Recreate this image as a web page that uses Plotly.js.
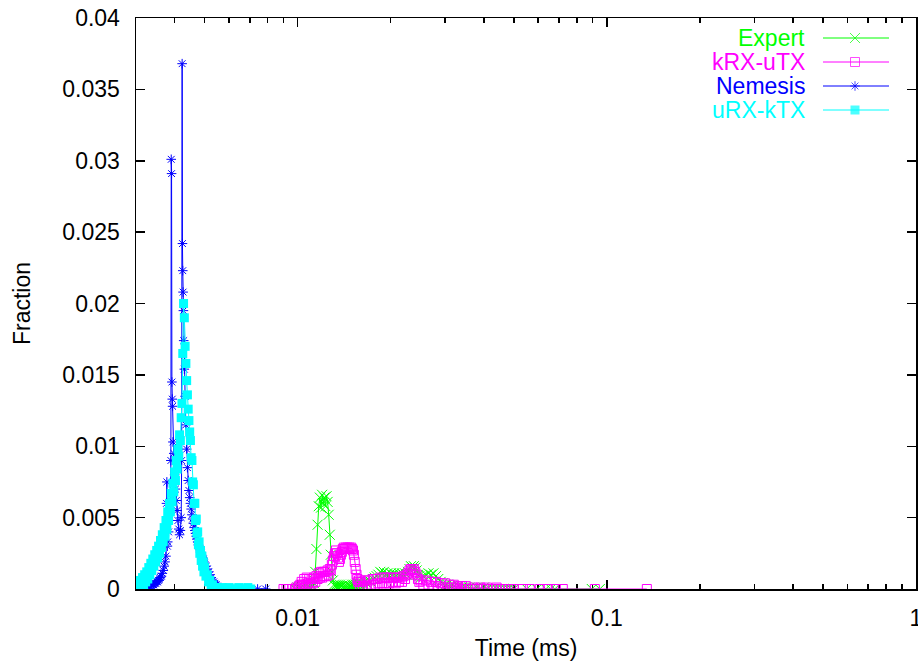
<!DOCTYPE html>
<html>
<head>
<meta charset="utf-8">
<script src="https://cdn.plot.ly/plotly-3.0.1.min.js"></script>
<style>
  html, body { margin: 0; padding: 0; background: #fff; }
  #chart { width: 918px; height: 664px; }
</style>
</head>
<body>
<div id="chart"></div>
<script>
// Latency histograms: fraction of samples per time bin (ms, log scale)

const seriesNames = ['Expert', 'kRX-uTX', 'Nemesis', 'uRX-kTX'];

const expertTime = [
  0.0098, 0.0099, 0.0100, 0.0101, 0.0102, 0.0103, 0.0104, 0.0105, 0.0106, 0.0107,
  0.0108, 0.0109, 0.0110, 0.0111, 0.0112, 0.0113, 0.0114, 0.0115, 0.0116, 0.0117,
  0.0118, 0.0119, 0.0120, 0.0121, 0.0122, 0.0123, 0.0124, 0.0125, 0.0126, 0.0127,
  0.0128, 0.0129, 0.0130, 0.0131, 0.0132, 0.0133, 0.0134, 0.0135, 0.0136, 0.0137,
  0.0138, 0.0139, 0.0140, 0.0141, 0.0142, 0.0143, 0.0144, 0.0145, 0.0146, 0.0147,
  0.0148, 0.0149, 0.0150, 0.0151, 0.0152, 0.0153, 0.0154, 0.0155, 0.0156, 0.0157,
  0.0158, 0.0159, 0.0160, 0.01625, 0.01650, 0.01675, 0.01700, 0.01725, 0.01750, 0.01775,
  0.01800, 0.01825, 0.01850, 0.01875, 0.01900, 0.01925, 0.01950, 0.01975, 0.02000, 0.02025,
  0.02050, 0.02075, 0.02100, 0.02125, 0.02150, 0.02175, 0.02200, 0.02225, 0.02250, 0.02275,
  0.02300, 0.02325, 0.02350, 0.02375, 0.02400, 0.02425, 0.02450, 0.02475, 0.02500, 0.0255,
  0.0260, 0.0265, 0.0270, 0.0275, 0.0280, 0.0285, 0.0290, 0.0295, 0.0300, 0.0305,
  0.0310, 0.0315, 0.0320, 0.0325, 0.0330, 0.0335, 0.0340, 0.0345, 0.0350, 0.036,
  0.037, 0.038, 0.039, 0.040, 0.041, 0.042, 0.043, 0.044, 0.045, 0.046,
  0.047, 0.048, 0.049, 0.050, 0.05510, 0.05935, 0.06347, 0.06588, 0.06787, 0.08942,
  0.09491
];
const expertFrac = [
  0.0000, 0.0000, 0.0001, 0.0000, 0.0001, 0.0001, 0.0002, 0.0001, 0.0002, 0.0001,
  0.0002, 0.0002, 0.0001, 0.0002, 0.0002, 0.0004, 0.0012, 0.0028, 0.0045, 0.0058,
  0.0064, 0.0057, 0.0066, 0.0060, 0.0064, 0.0058, 0.0065, 0.0061, 0.0052, 0.0038,
  0.0024, 0.0012, 0.0006, 0.0003, 0.0002, 0.0003, 0.0002, 0.0003, 0.0002, 0.0003,
  0.0002, 0.0002, 0.0001, 0.0002, 0.0001, 0.0002, 0.0001, 0.0002, 0.0001, 0.0002,
  0.0002, 0.0002, 0.0003, 0.0002, 0.0003, 0.0002, 0.0003, 0.0003, 0.0004, 0.0003,
  0.0004, 0.0003, 0.0004, 0.0004, 0.0005, 0.0004, 0.0006, 0.0005, 0.0007, 0.0008,
  0.0009, 0.0010, 0.0012, 0.0011, 0.0012, 0.0010, 0.0011, 0.0009, 0.0011, 0.0010,
  0.0011, 0.0009, 0.0010, 0.0011, 0.0010, 0.0011, 0.0010, 0.0011, 0.0010, 0.0012,
  0.0014, 0.0016, 0.0015, 0.0016, 0.0015, 0.0013, 0.0010, 0.0009, 0.0008, 0.0009,
  0.0010, 0.0011, 0.0010, 0.0011, 0.0009, 0.0007, 0.0005, 0.0004, 0.0003, 0.0003,
  0.0002, 0.0002, 0.0002, 0.0001, 0.0002, 0.0001, 0.0001, 0.0001, 0.0001, 0.0001,
  0.0000, 0.0001, 0.0000, 0.0001, 0.0000, 0.0000, 0.0000, 0.0000, 0.0000, 0.0000,
  0.0000, 0.0000, 0.0000, 0.0000, 0.0000, 0.0000, 0.0000, 0.0000, 0.0000, 0.0000,
  0.0000
];

const krxTime = [
  0.0090, 0.0092, 0.0094, 0.0096, 0.0098, 0.0099, 0.0100, 0.0101, 0.0102, 0.0103,
  0.0104, 0.0105, 0.0106, 0.0107, 0.0108, 0.0109, 0.0110, 0.0111, 0.0112, 0.0113,
  0.0114, 0.0115, 0.0116, 0.0117, 0.0118, 0.0119, 0.0120, 0.0121, 0.0122, 0.0123,
  0.0124, 0.0125, 0.0126, 0.0127, 0.0128, 0.0129, 0.0130, 0.0131, 0.0132, 0.0133,
  0.0134, 0.0135, 0.0136, 0.0137, 0.0138, 0.0139, 0.0140, 0.0141, 0.0142, 0.0143,
  0.0144, 0.0145, 0.0146, 0.0147, 0.0148, 0.0149, 0.0150, 0.0151, 0.0152, 0.0153,
  0.0154, 0.0155, 0.0156, 0.0157, 0.0158, 0.0159, 0.0160, 0.01625, 0.01650, 0.01675,
  0.01700, 0.01725, 0.01750, 0.01775, 0.01800, 0.01825, 0.01850, 0.01875, 0.01900, 0.01925,
  0.01950, 0.01975, 0.02000, 0.02025, 0.02050, 0.02075, 0.02100, 0.02125, 0.02150, 0.02175,
  0.02200, 0.02225, 0.02250, 0.02275, 0.02300, 0.02325, 0.02350, 0.02375, 0.02400, 0.02425,
  0.02450, 0.02475, 0.02500, 0.0255, 0.0260, 0.0265, 0.0270, 0.0275, 0.0280, 0.0285,
  0.0290, 0.0295, 0.0300, 0.0305, 0.0310, 0.0315, 0.0320, 0.0325, 0.0330, 0.0335,
  0.0340, 0.0345, 0.0350, 0.036, 0.037, 0.038, 0.039, 0.040, 0.041, 0.042,
  0.043, 0.044, 0.045, 0.046, 0.047, 0.048, 0.049, 0.050, 0.05348, 0.05635,
  0.06070, 0.06443, 0.06839, 0.07204, 0.09146, 0.1347
];
const krxFrac = [
  0.0000, 0.0000, 0.0000, 0.0000, 0.0000, 0.0001, 0.0000, 0.0002, 0.0003, 0.0005,
  0.0003, 0.0007, 0.0003, 0.0008, 0.0004, 0.0007, 0.0003, 0.0007, 0.0004, 0.0008,
  0.0005, 0.0009, 0.0007, 0.0011, 0.0008, 0.0012, 0.0008, 0.0012, 0.0009, 0.0012,
  0.0009, 0.0013, 0.0010, 0.0014, 0.0013, 0.0017, 0.0020, 0.0023, 0.0025, 0.0027,
  0.0025, 0.0022, 0.0019, 0.0021, 0.0024, 0.0026, 0.0028, 0.0029, 0.0028, 0.0029,
  0.0028, 0.0029, 0.0028, 0.0029, 0.0028, 0.0029, 0.0028, 0.0027, 0.0024, 0.0019,
  0.0014, 0.0010, 0.0007, 0.0005, 0.0006, 0.0002, 0.0005, 0.0002, 0.0006, 0.0002,
  0.0006, 0.0003, 0.0007, 0.0003, 0.0007, 0.0004, 0.0008, 0.0004, 0.0008, 0.0004,
  0.0008, 0.0004, 0.0008, 0.0005, 0.0008, 0.0004, 0.0008, 0.0005, 0.0008, 0.0005,
  0.0009, 0.0007, 0.0010, 0.0011, 0.0013, 0.0014, 0.0013, 0.0014, 0.0012, 0.0010,
  0.0007, 0.0005, 0.0006, 0.0003, 0.0006, 0.0003, 0.0005, 0.0002, 0.0005, 0.0002,
  0.0004, 0.0001, 0.0004, 0.0001, 0.0003, 0.0001, 0.0003, 0.0001, 0.0002, 0.0000,
  0.0002, 0.0000, 0.0002, 0.0000, 0.0001, 0.0000, 0.0001, 0.0000, 0.0001, 0.0000,
  0.0000, 0.0001, 0.0000, 0.0000, 0.0000, 0.0000, 0.0000, 0.0000, 0.0000, 0.0000,
  0.0000, 0.0000, 0.0000, 0.0000, 0.0000, 0.0000
];

const nemesisTime = [
  0.003000, 0.003025, 0.003050, 0.003075, 0.003100, 0.003125, 0.003150, 0.003175, 0.003200, 0.003225,
  0.003250, 0.003275, 0.003300, 0.003325, 0.003350, 0.003375, 0.003400, 0.003425, 0.003450, 0.003475,
  0.003500, 0.003525, 0.003550, 0.003575, 0.003600, 0.003625, 0.003650, 0.003675, 0.003700, 0.003725,
  0.003750, 0.003765, 0.003775, 0.003790, 0.003800, 0.003825, 0.003850, 0.003875, 0.003890, 0.003900,
  0.003910, 0.003920, 0.003930, 0.003940, 0.003950, 0.003975, 0.004000, 0.004025, 0.004050, 0.004075,
  0.004100, 0.004125, 0.004150, 0.004175, 0.004200, 0.004215, 0.004230, 0.004240, 0.004250, 0.004260,
  0.004270, 0.004280, 0.004300, 0.004325, 0.004350, 0.004375, 0.004400, 0.004425, 0.004450, 0.004475,
  0.004500, 0.004525, 0.004550, 0.004575, 0.004600, 0.004625, 0.004650, 0.004675, 0.004700, 0.004725,
  0.004750, 0.004775, 0.004800, 0.004825, 0.004850, 0.004875, 0.004900, 0.004925, 0.004950, 0.004975,
  0.005000, 0.005050, 0.005100, 0.005150, 0.005200, 0.005250, 0.005300, 0.005350, 0.005400, 0.005450,
  0.005500, 0.005550, 0.005600, 0.005700, 0.005800, 0.006000, 0.006500, 0.007000, 0.007420, 0.007880
];
const nemesisFrac = [
  0.0000, 0.0000, 0.0001, 0.0000, 0.0001, 0.0000, 0.0001, 0.0001, 0.0001, 0.0002,
  0.0001, 0.0002, 0.0002, 0.0002, 0.0003, 0.0002, 0.0003, 0.0003, 0.0004, 0.0004,
  0.0005, 0.0005, 0.0006, 0.0007, 0.0008, 0.0009, 0.0011, 0.0013, 0.0016, 0.0019,
  0.0023, 0.0060, 0.0075, 0.0030, 0.0033, 0.0040, 0.0048, 0.0060, 0.0090, 0.0301,
  0.0291, 0.0145, 0.0133, 0.0128, 0.0103, 0.0095, 0.0080, 0.0070, 0.0062, 0.0055,
  0.0048, 0.0042, 0.0038, 0.0041, 0.0050, 0.0090, 0.0368, 0.0242, 0.0223, 0.0208,
  0.0195, 0.0174, 0.0154, 0.0135, 0.0115, 0.0098, 0.0085, 0.0076, 0.0069, 0.0064,
  0.0060, 0.0056, 0.0052, 0.0049, 0.0046, 0.0043, 0.0041, 0.0039, 0.0037, 0.0035,
  0.0033, 0.0031, 0.0029, 0.0028, 0.0026, 0.0025, 0.0023, 0.0022, 0.0021, 0.0019,
  0.0018, 0.0016, 0.0014, 0.0012, 0.0010, 0.0008, 0.0006, 0.0005, 0.0004, 0.0003,
  0.0002, 0.0001, 0.0001, 0.0000, 0.0000, 0.0000, 0.0000, 0.0000, 0.0000, 0.0000
];

const urxTime = [
  0.003000, 0.003025, 0.003050, 0.003075, 0.003100, 0.003125, 0.003150, 0.003175, 0.003200, 0.003225,
  0.003250, 0.003275, 0.003300, 0.003325, 0.003350, 0.003375, 0.003400, 0.003425, 0.003450, 0.003475,
  0.003500, 0.003525, 0.003550, 0.003575, 0.003600, 0.003625, 0.003650, 0.003675, 0.003700, 0.003725,
  0.003750, 0.003775, 0.003800, 0.003825, 0.003850, 0.003875, 0.003900, 0.003925, 0.003950, 0.003975,
  0.004000, 0.004025, 0.004050, 0.004075, 0.004100, 0.004125, 0.004150, 0.004175, 0.004200, 0.004225,
  0.004250, 0.004275, 0.004300, 0.004325, 0.004350, 0.004375, 0.004400, 0.004425, 0.004450, 0.004475,
  0.004500, 0.004525, 0.004550, 0.004575, 0.004600, 0.004625, 0.004650, 0.004675, 0.004700, 0.004725,
  0.004750, 0.004775, 0.004800, 0.004825, 0.004850, 0.004875, 0.004900, 0.004925, 0.004950, 0.004975,
  0.005000, 0.005050, 0.005100, 0.005150, 0.005200, 0.005250, 0.005300, 0.005350, 0.005400, 0.005450,
  0.005500, 0.005550, 0.005600, 0.005700, 0.005800, 0.005900, 0.006000, 0.006150, 0.006300, 0.006450,
  0.006600, 0.006750, 0.006900, 0.007050
];
const urxFrac = [
  0.0002, 0.0000, 0.0004, 0.0001, 0.0006, 0.0002, 0.0008, 0.0003, 0.0010, 0.0005,
  0.0012, 0.0007, 0.0015, 0.0010, 0.0018, 0.0013, 0.0021, 0.0016, 0.0024, 0.0019,
  0.0027, 0.0022, 0.0030, 0.0025, 0.0034, 0.0029, 0.0038, 0.0033, 0.0043, 0.0037,
  0.0048, 0.0042, 0.0054, 0.0048, 0.0060, 0.0054, 0.0067, 0.0061, 0.0074, 0.0068,
  0.0082, 0.0076, 0.0090, 0.0084, 0.0098, 0.0093, 0.0108, 0.0104, 0.0120, 0.0130,
  0.0165, 0.0200, 0.0190, 0.0170, 0.0158, 0.0146, 0.0136, 0.0126, 0.0118, 0.0110,
  0.0104, 0.0092, 0.0090, 0.0075, 0.0073, 0.0060, 0.0060, 0.0048, 0.0049, 0.0039,
  0.0040, 0.0031, 0.0033, 0.0025, 0.0027, 0.0020, 0.0023, 0.0016, 0.0019, 0.0012,
  0.0015, 0.0009, 0.0010, 0.0005, 0.0006, 0.0002, 0.0003, 0.0001, 0.0001, 0.0000,
  0.0001, 0.0000, 0.0000, 0.0001, 0.0000, 0.0000, 0.0001, 0.0000, 0.0000, 0.0001,
  0.0000, 0.0000, 0.0001, 0.0000
];

const xTickVals = [0.01, 0.1, 1];
const xTickText = ['0.01', '0.1', '1'];
const yTickVals = [0, 0.005, 0.01, 0.015, 0.02, 0.025, 0.03, 0.035, 0.04];
const yTickText = ['0', '0.005', '0.01', '0.015', '0.02', '0.025', '0.03', '0.035', '0.04'];

const colors = ['#00ff00', '#ff00ff', '#0000ff', '#00ffff'];
const symbols = ['x-thin-open', 'square-open', 'asterisk-open', 'square'];
const sizes = [10, 9, 8, 9];

const seriesData = [
  [expertTime, expertFrac],
  [krxTime, krxFrac],
  [nemesisTime, nemesisFrac],
  [urxTime, urxFrac]
];

const traces = seriesData.map(function (d, i) {
  return {
    type: 'scatter',
    mode: 'lines+markers',
    name: seriesNames[i],
    x: d[0],
    y: d[1],
    line: { color: colors[i], width: 1 },
    marker: {
      symbol: symbols[i],
      size: sizes[i],
      color: colors[i],
      line: { color: colors[i], width: i === 3 ? 0 : 1 }
    },
    cliponaxis: true,
    hoverinfo: 'x+y+name'
  };
});

// Key drawn inside the frame, top right: label, then a line sample with its marker.
// The overlay axes below are in plot-area pixels so the key can be placed directly.
const keyRows = [38, 62, 86, 110];
const keyLineX = [823, 855, 889];
seriesNames.forEach(function (name, i) {
  traces.push({
    type: 'scatter',
    mode: 'lines+markers',
    xaxis: 'x2',
    yaxis: 'y2',
    x: keyLineX,
    y: [keyRows[i], keyRows[i], keyRows[i]],
    line: { color: colors[i], width: 1 },
    marker: {
      symbol: symbols[i],
      size: [0, sizes[i], 0],
      color: colors[i],
      line: { color: colors[i], width: i === 3 ? 0 : 1 }
    },
    showlegend: false,
    hoverinfo: 'skip'
  });
});

const keyLabels = seriesNames.map(function (name, i) {
  return {
    xref: 'x2', yref: 'y2',
    x: 807, y: keyRows[i],
    xanchor: 'right', yanchor: 'middle',
    text: name,
    showarrow: false,
    font: { family: 'Liberation Sans, Arial, sans-serif', size: 23, color: colors[i] }
  };
});

const minorX = [0.004, 0.005, 0.006, 0.007, 0.008, 0.009,
                0.02, 0.03, 0.04, 0.05, 0.06, 0.07, 0.08, 0.09,
                0.2, 0.3, 0.4, 0.5, 0.6, 0.7, 0.8, 0.9];

const layout = {
  width: 918,
  height: 664,
  margin: { l: 136, r: 2, t: 18, b: 75, pad: 0 },
  paper_bgcolor: '#ffffff',
  plot_bgcolor: '#ffffff',
  font: { family: 'Liberation Sans, Arial, sans-serif', size: 23, color: '#000000' },
  showlegend: false,
  xaxis: {
    type: 'log',
    range: [Math.log10(0.003), 0],
    tickmode: 'array',
    tickvals: xTickVals,
    ticktext: xTickText,
    ticks: 'inside',
    ticklen: 9,
    tickwidth: 1.5,
    tickcolor: '#000000',
    ticklabelstandoff: 8,
    ticklabeloverflow: 'allow',
    showline: true,
    linecolor: '#000000',
    linewidth: 1.5,
    mirror: 'allticks',
    showgrid: false,
    zeroline: false,
    layer: 'below traces',
    minor: { tickmode: 'array', tickvals: minorX, ticks: 'inside', ticklen: 5, tickwidth: 1.5, tickcolor: '#000000', showgrid: false },
    title: { text: 'Time (ms)', standoff: 10, font: { size: 23 } }
  },
  yaxis: {
    range: [0, 0.04],
    tickmode: 'array',
    tickvals: yTickVals,
    ticktext: yTickText,
    ticks: 'inside',
    ticklen: 9,
    tickwidth: 1.5,
    tickcolor: '#000000',
    ticklabelstandoff: 10,
    showline: true,
    linecolor: '#000000',
    linewidth: 1.5,
    mirror: 'allticks',
    showgrid: false,
    zeroline: false,
    layer: 'below traces',
    title: { text: 'Fraction', standoff: 25, font: { size: 23 } }
  },
  xaxis2: { overlaying: 'x', anchor: 'y2', range: [136, 916], visible: false, fixedrange: true },
  yaxis2: { overlaying: 'y', anchor: 'x2', range: [589, 18], visible: false, fixedrange: true },
  annotations: keyLabels
};

Plotly.newPlot('chart', traces, layout, { displayModeBar: false, staticPlot: true });
</script>
</body>
</html>
